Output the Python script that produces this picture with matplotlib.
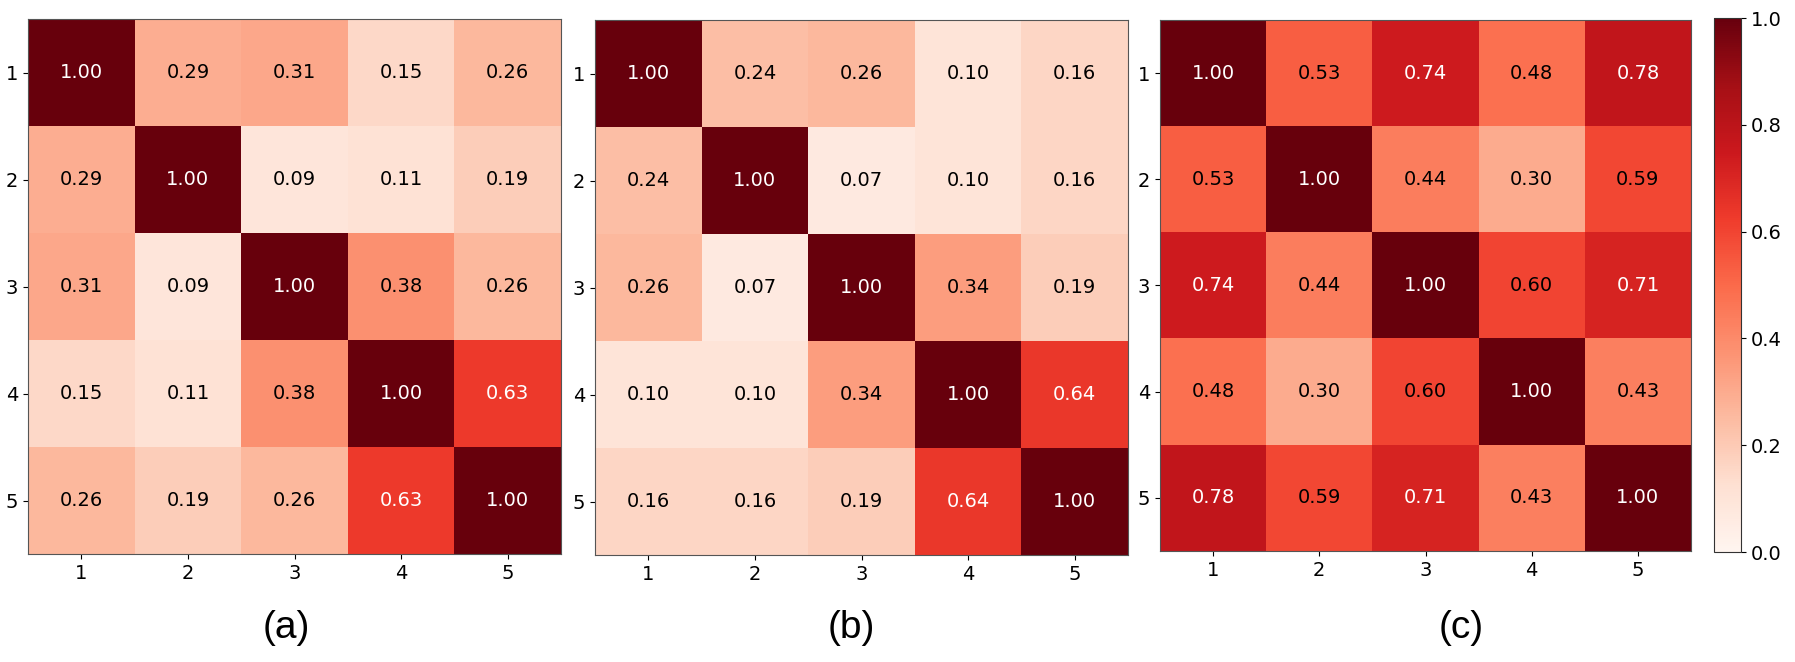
import matplotlib
matplotlib.use('Agg')
import matplotlib.pyplot as plt
import numpy as np

labels = ['1', '2', '3', '4', '5']

corr_a = [[1.00, 0.29, 0.31, 0.15, 0.26],
          [0.29, 1.00, 0.09, 0.11, 0.19],
          [0.31, 0.09, 1.00, 0.38, 0.26],
          [0.15, 0.11, 0.38, 1.00, 0.63],
          [0.26, 0.19, 0.26, 0.63, 1.00]]

corr_b = [[1.00, 0.24, 0.26, 0.10, 0.16],
          [0.24, 1.00, 0.07, 0.10, 0.16],
          [0.26, 0.07, 1.00, 0.34, 0.19],
          [0.10, 0.10, 0.34, 1.00, 0.64],
          [0.16, 0.16, 0.19, 0.64, 1.00]]

corr_c = [[1.00, 0.53, 0.74, 0.48, 0.78],
          [0.53, 1.00, 0.44, 0.30, 0.59],
          [0.74, 0.44, 1.00, 0.60, 0.71],
          [0.48, 0.30, 0.60, 1.00, 0.43],
          [0.78, 0.59, 0.71, 0.43, 1.00]]

panel_names = ['(a)', '(b)', '(c)']

W, H = 1795, 662
fig = plt.figure(figsize=(W / 100, H / 100), dpi=100)


def px_axes(x0, y0, x1, y1):
    # pixel box (left, top, right, bottom) -> figure fraction axes
    return fig.add_axes([x0 / W, 1 - y1 / H, (x1 - x0) / W, (y1 - y0) / H])


boxes = [(28, 19, 561, 554), (595, 20, 1128, 555), (1160, 20, 1691, 551)]
label_x = [286, 851, 1461]

im = None
for data, box, name, lx in zip([corr_a, corr_b, corr_c], boxes, panel_names, label_x):
    ax = px_axes(*box)
    arr = np.array(data)
    im = ax.imshow(arr, cmap='Reds', vmin=0, vmax=1, aspect='auto')
    ax.set_xticks(range(len(labels)))
    ax.set_xticklabels(labels, fontsize=14)
    ax.set_yticks(range(len(labels)))
    ax.set_yticklabels(labels, fontsize=14)
    for sp in ax.spines.values():
        sp.set_color('#555555')
    for i in range(arr.shape[0]):
        for j in range(arr.shape[1]):
            v = arr[i, j]
            ax.text(j, i, '%.2f' % v, ha='center', va='center', fontsize=14,
                    color='white' if v > 0.61 else 'black')
    fig.text(lx / W, 1 - 628 / H, name, ha='center', va='center',
             fontsize=28, family='Liberation Sans')

cax = px_axes(1714, 18, 1741, 552)
cb = fig.colorbar(im, cax=cax, ticks=[0.0, 0.2, 0.4, 0.6, 0.8, 1.0])
cb.ax.tick_params(labelsize=14)
cb.outline.set_edgecolor('#333333')

plt.savefig('out.png', dpi=100)
